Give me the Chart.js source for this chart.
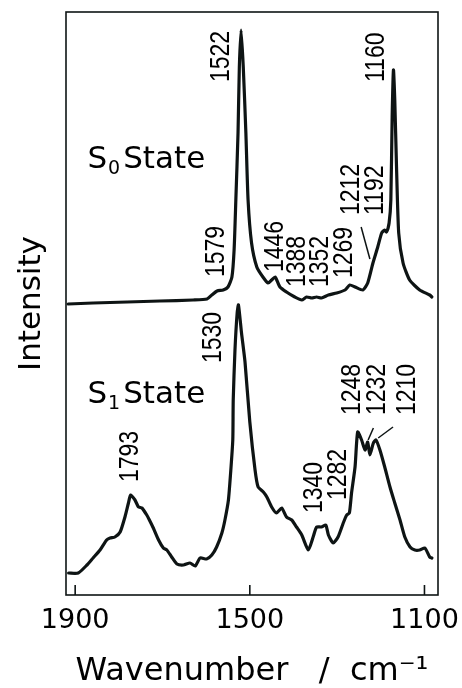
<!DOCTYPE html>
<html>
<head>
<meta charset="utf-8">
<script src="https://cdn.jsdelivr.net/npm/chart.js@4.4.1/dist/chart.umd.min.js"></script>
<style>
  html, body { margin: 0; padding: 0; background: #fff; }
  #wrap { width: 462px; height: 688px; }
</style>
</head>
<body>
<div id="wrap"><canvas id="ramanChart"></canvas></div>
<script>
// ===== DATA (intensity in arbitrary units) =====

const S0_WN  = [1916, 1859, 1781, 1706, 1630, 1598, 1587, 1575, 1561, 1550, 1541, 1536, 1532, 1527, 1524, 1520,
                1515, 1509, 1504, 1496, 1484, 1470, 1458, 1450, 1442, 1431, 1416, 1397, 1381, 1370, 1358, 1347,
                1336, 1320, 1301, 1282, 1271, 1259, 1241, 1230, 1218, 1207, 1198, 1191, 1187, 1181, 1177, 1174,
                1171, 1168, 1164, 1159, 1149, 1134, 1111, 1088, 1083];
const S0_INT = [291, 292, 293, 294, 295, 296, 300, 304, 305, 308, 318, 345, 395, 462, 528, 565,
                528, 462, 395, 352, 328, 318, 312, 315, 318, 308, 303, 298, 295, 298, 297, 298,
                297, 300, 302, 305, 310, 308, 305, 312, 332, 348, 362, 365, 363, 372, 395, 478,
                525, 495, 428, 362, 332, 315, 305, 300, 298];

const S1_WN  = [1915, 1893, 1873, 1859, 1843, 1828, 1820, 1809, 1797, 1786, 1778, 1773, 1763, 1755, 1747, 1736,
                1730, 1721, 1709, 1698, 1690, 1679, 1667, 1652, 1637, 1625, 1614, 1599, 1587, 1576, 1564, 1557,
                1549, 1544, 1539, 1538, 1534, 1529, 1526, 1519, 1511, 1500, 1488, 1481, 1469, 1461, 1450, 1439,
                1427, 1416, 1404, 1393, 1381, 1366, 1355, 1347, 1336, 1326, 1320, 1309, 1298, 1286, 1278, 1272,
                1267, 1259, 1253, 1244, 1236, 1230, 1225, 1217, 1211, 1202, 1191, 1179, 1168, 1156, 1145, 1133,
                1122, 1111, 1099, 1088, 1083];
const S1_INT = [22, 22, 30, 37, 45, 55, 57, 58, 63, 78, 92, 100, 95, 88, 87, 80,
                75, 67, 55, 47, 45, 38, 31, 30, 32, 29, 37, 36, 40, 48, 62, 75,
                95, 122, 155, 195, 245, 282, 290, 262, 233, 173, 125, 108, 103, 98, 88, 82,
                87, 78, 75, 68, 60, 45, 58, 68, 68, 70, 60, 52, 58, 72, 80, 82,
                102, 128, 163, 155, 145, 153, 140, 152, 155, 145, 128, 108, 92, 75, 58, 48,
                45, 45, 47, 38, 37];

const X_TICKS = [1900, 1500, 1100];

const S0_PEAK_LABELS = ['1522', '1579', '1446', '1388', '1352', '1269', '1212', '1192', '1160'];
const S1_PEAK_LABELS = ['1530', '1793', '1340', '1282', '1248', '1232', '1210'];

// ===== LAYOUT OF THE ANNOTATIONS (wavenumber of text centre, intensity at text foot) =====

const S0_LABEL_AT = [[1564, 513], [1576, 318], [1442, 323], [1390, 308], [1339, 308],
                     [1284, 317], [1268, 380], [1213, 380], [1210, 513]];
const S1_LABEL_AT = [[1584, 232], [1774, 113], [1351, 82], [1298, 95],
                     [1264, 180], [1207, 180], [1140, 180]];
const LEADERS = [[[1245, 368], [1225, 336]], [[1217, 167], [1229, 155]], [[1172, 168], [1206, 157]]];
const STATES = [{ sub: '0', at: [1872, 427] }, { sub: '1', at: [1872, 192] }];

const INK = '#0e1414';
const toPoints = (xs, ys) => xs.map((v, i) => ({ x: v, y: ys[i] }));

function drawVertical(ctx, text, px, py) {
  ctx.save();
  ctx.translate(px, py);
  ctx.rotate(-Math.PI / 2);
  ctx.scale(1, 1.2);
  ctx.textAlign = 'left';
  ctx.textBaseline = 'middle';
  ctx.fillText(text, 0, 0);
  ctx.restore();
}

const decorations = {
  id: 'decorations',
  afterDatasetsDraw(chart) {
    const { ctx, chartArea: a, scales: { x, y } } = chart;
    ctx.save();
    ctx.strokeStyle = INK;
    ctx.fillStyle = '#000';

    // frame + inward ticks
    ctx.lineWidth = 1.6;
    ctx.strokeRect(a.left, a.top, a.right - a.left, a.bottom - a.top);
    x.ticks.forEach(t => {
      const px = x.getPixelForValue(t.value);
      ctx.beginPath();
      ctx.moveTo(px, a.bottom);
      ctx.lineTo(px, a.bottom - 10);
      ctx.stroke();
    });

    // peak labels
    ctx.font = '23px "Liberation Sans"';
    S0_PEAK_LABELS.forEach((t, i) =>
      drawVertical(ctx, t, x.getPixelForValue(S0_LABEL_AT[i][0]), y.getPixelForValue(S0_LABEL_AT[i][1])));
    S1_PEAK_LABELS.forEach((t, i) =>
      drawVertical(ctx, t, x.getPixelForValue(S1_LABEL_AT[i][0]), y.getPixelForValue(S1_LABEL_AT[i][1])));

    ctx.lineWidth = 1.5;
    LEADERS.forEach(([p, q]) => {
      ctx.beginPath();
      ctx.moveTo(x.getPixelForValue(p[0]), y.getPixelForValue(p[1]));
      ctx.lineTo(x.getPixelForValue(q[0]), y.getPixelForValue(q[1]));
      ctx.stroke();
    });

    // state captions
    STATES.forEach(s => {
      const px = x.getPixelForValue(s.at[0]);
      const py = y.getPixelForValue(s.at[1]);
      ctx.textAlign = 'left';
      ctx.textBaseline = 'alphabetic';
      ctx.font = '31px "DejaVu Sans"';
      ctx.fillText('S', px, py);
      const wS = ctx.measureText('S').width;
      ctx.font = '19px "DejaVu Sans"';
      ctx.fillText(s.sub, px + wS + 1, py + 6);
      const wSub = ctx.measureText(s.sub).width;
      ctx.font = '31px "DejaVu Sans"';
      ctx.fillText('State', px + wS + wSub + 4, py);
    });
    ctx.restore();
  },
};

const lineStyle = {
  borderColor: INK, borderWidth: 3.2, pointRadius: 0,
  tension: 0.2, borderJoinStyle: 'round', borderCapStyle: 'round', fill: false,
};

new Chart(document.getElementById('ramanChart'), {
  type: 'line',
  data: {
    datasets: [
      { label: 'S0 State', data: toPoints(S0_WN, S0_INT), ...lineStyle },
      { label: 'S1 State', data: toPoints(S1_WN, S1_INT), ...lineStyle },
    ],
  },
  options: {
    responsive: true, maintainAspectRatio: false, animation: false,
    layout: { padding: { top: 12, right: 24, left: 0, bottom: 0 } },
    plugins: { legend: { display: false }, tooltip: { enabled: false } },
    scales: {
      x: {
        type: 'linear', reverse: true, min: 1069, max: 1921,
        afterBuildTicks: s => { s.ticks = X_TICKS.map(v => ({ value: v })); },
        afterFit: s => { s.height = 93; s.paddingLeft = 0; s.paddingRight = 0; },
        grid: { display: false, drawTicks: false },
        border: { display: false },
        ticks: {
          padding: 10, color: '#000', maxRotation: 0, autoSkip: false,
          font: { family: 'DejaVu Sans', size: 27 },
          callback: v => String(v),
        },
        title: {
          display: true, text: 'Wavenumber   /  cm⁻¹', color: '#000',
          font: { family: 'DejaVu Sans', size: 32, lineHeight: 1 },
          padding: { top: 0, bottom: 0 },
        },
      },
      y: {
        min: 0, max: 583,
        afterFit: s => { s.width = 66; },
        grid: { display: false, drawTicks: false },
        border: { display: false },
        ticks: { display: false },
        title: {
          display: true, text: 'Intensity', color: '#000',
          font: { family: 'DejaVu Sans', size: 31, lineHeight: 1 },
          padding: { top: 16, bottom: 0 },
        },
      },
    },
  },
  plugins: [decorations],
});
</script>
</body>
</html>
